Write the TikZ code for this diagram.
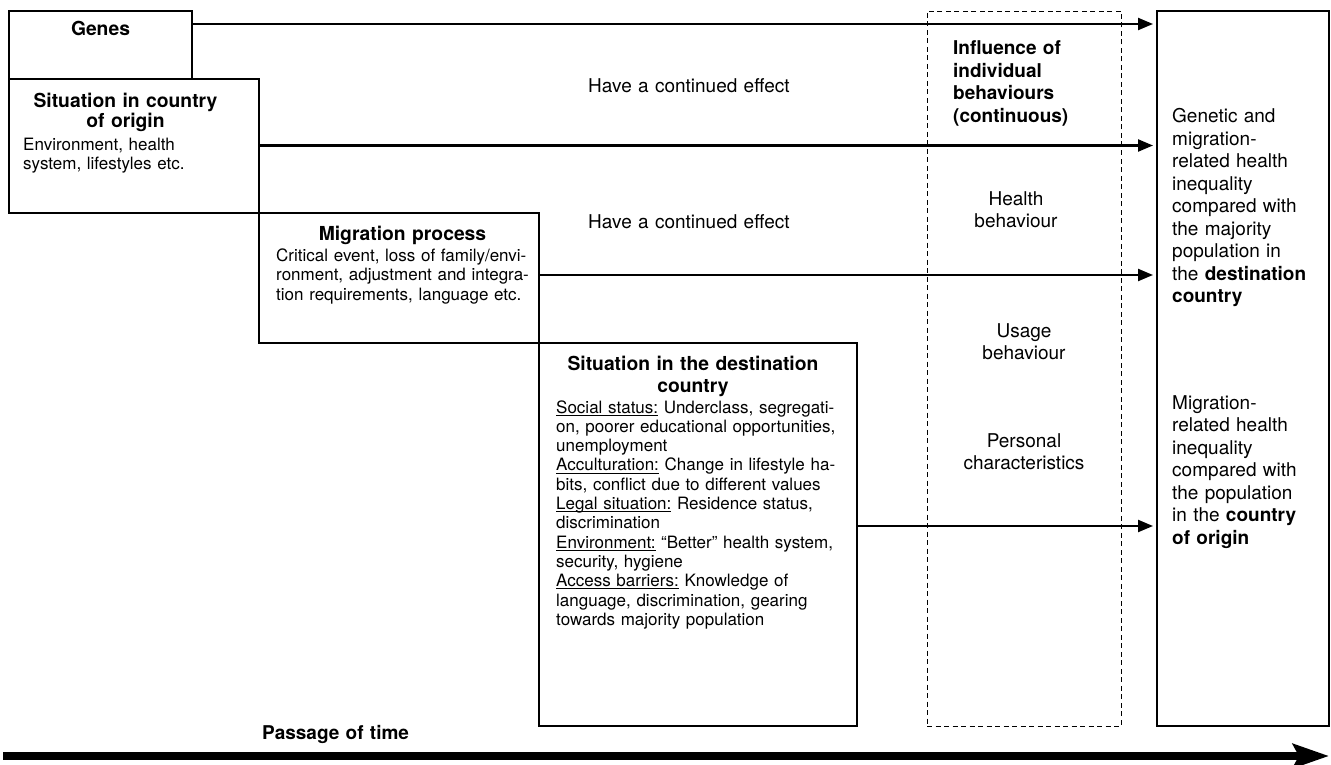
\documentclass[tikz,border=0pt]{standalone}
\usepackage{fontspec}
\setmainfont{TeX Gyre Heros}
\usetikzlibrary{arrows.meta}
\newcommand\ulbox[1]{\leavevmode\setbox0\hbox{#1}\rlap{\rule[-2.6pt]{\wd0}{0.9pt}}\box0\relax}
\begin{document}
\begin{tikzpicture}[x=1pt,y=-1pt,
  box/.style={draw, line width=1.1pt, anchor=north west, inner sep=0pt, outer sep=0pt},
  conn/.style={line width=2.2pt, -{Triangle[length=15pt,width=12pt]}, shorten >=4pt},
  big/.style={font=\fontsize{19}{22.5}\selectfont},
  bigb/.style={font=\fontsize{19}{22.5}\selectfont\bfseries},
  hd/.style={font=\fontsize{19.3}{#1}\selectfont\bfseries},
  hd/.default=20,
  body/.style={font=\fontsize{17}{19.3}\selectfont},
  lt/.style={inner sep=0pt, anchor=base west, text width=#1, align=left},
  lt/.default=300pt,
  ct/.style={inner sep=0pt, anchor=base, text width=#1, align=center},
  ct/.default=300pt,
]
\useasboundingbox (0,0) rectangle (1331,765);

% boxes
\node[box, minimum width=183pt, minimum height=68pt] (genes) at (9,11) {};
\node[box, minimum width=250pt, minimum height=134pt] (origin) at (9,79) {};
\node[box, minimum width=280pt, minimum height=130pt] (migr) at (259,213) {};
\node[box, minimum width=318pt, minimum height=383pt] (dest) at (539,343) {};
\node[box, line width=0.9pt, dash pattern=on 5pt off 3.5pt, minimum width=194pt, minimum height=715pt] (infl) at (927,11) {};
\node[box, minimum width=172pt, minimum height=715pt] (result) at (1157,11) {};

% box texts
\node[hd, ct=170pt] (tgenes) at (100.5,36) {Genes};
\node[hd=20, ct=240pt] (torigh) at (125.5,108) {Situation in country\\of origin};
\node[body, lt=240pt] (torigb) at (23,150) {Environment, health\\system, lifestyles etc.};
\node[hd, ct=270pt] (tmigh) at (402.5,240) {Migration process};
\node[body, lt=270pt] (tmigb) at (276,261.5) {Critical event, loss of family/envi-\\ronment, adjustment and integra-\\tion requirements, language etc.};
\node[hd=22, ct=310pt] (tdesth) at (693,370) {Situation in the destination\\country};
\node[body, lt=300pt] (tdestb) at (556,413) {\ulbox{Social status:} Underclass, segregati-\\
on, poorer educational opportunities,\\
unemployment\\
\ulbox{Acculturation:} Change in lifestyle ha-\\
bits, conflict due to different values\\
\ulbox{Legal situation:} Residence status,\\
discrimination\\
\ulbox{Environment:} “Better” health system,\\
security, hygiene\\
\ulbox{Access barriers:} Knowledge of\\
language, discrimination, gearing\\
towards majority population};

% effect labels
\node[big, ct] (eff1) at (689,93) {Have a continued effect};
\node[big, ct] (eff2) at (689,228) {Have a continued effect};

% individual behaviours
\node[bigb, lt=160pt] (tinfl) at (953,55) {Influence of\\individual\\behaviours\\(continuous)};
\node[big, ct=180pt] (thealth) at (1016,205) {Health\\behaviour};
\node[big, ct=180pt] (tusage) at (1024,337) {Usage\\behaviour};
\node[big, ct=180pt] (tpers) at (1024,447) {Personal\\characteristics};

% results
\node[big, lt=160pt] (tres1) at (1172,122.7) {Genetic and\\migration-\\related health\\inequality\\compared with\\the majority\\population in\\the \textbf{destination}\\\textbf{country}};
\node[big, lt=160pt] (tres2) at (1172,409.3) {Migration-\\related health\\inequality\\compared with\\the population\\in the \textbf{country}\\\textbf{of origin}};

% connectors
\coordinate (y1) at (0,24);
\coordinate (y2) at (0,145.5);
\coordinate (y3) at (0,275);
\coordinate (y4) at (0,526);
\draw[conn] (genes.east |- y1) -- (result.west |- y1);
\draw[conn] (origin.east |- y2) -- (result.west |- y2);
\draw[conn] (migr.east |- y3) -- (result.west |- y3);
\draw[conn] (dest.east |- y4) -- (result.west |- y4);

% time axis
\node[bigb, lt=200pt] (tpass) at (262,739) {Passage of time};
\coordinate (t0) at (3,756);
\coordinate (t1) at (1329,756);
\draw[line width=8pt, -{Stealth[length=36pt,width=24pt,inset=6pt]}] (t0) -- (t1);
\end{tikzpicture}
\end{document}
